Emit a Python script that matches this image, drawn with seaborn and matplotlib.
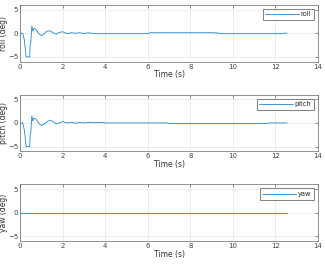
import numpy as np
import pandas as pd
import matplotlib
matplotlib.use("Agg")
import matplotlib.pyplot as plt
import seaborn as sns

# attitude response (deg vs s)
t_roll = [0, 0.12, 0.2, 0.28, 0.3, 0.45, 0.47, 0.5, 0.55, 0.6, 0.65, 0.72, 0.8, 0.9, 1.0, 1.1,
          1.25, 1.4, 1.55, 1.7, 1.85, 2.0, 2.2, 2.4, 2.6, 2.8, 3.0, 3.2, 3.5, 4.0, 5.0, 6.0,
          6.1, 7.0, 8.0, 9.0, 9.3, 9.4, 10.5, 11.5, 12.3, 12.55]
roll = [0, 0, -1.5, -5, -5, -5, -2.5, -2, 1.5, 0.4, 1.0, 0.9, 0.4, -0.2, -0.5, -0.2,
        0.4, 0.5, 0.1, -0.2, 0.2, 0.3, -0.1, 0.1, 0.0, 0.1, -0.05, 0.1, -0.1, -0.1, -0.1, -0.1,
        0.1, 0.1, 0.1, 0.1, 0.05, -0.1, -0.1, -0.1, -0.1, 0.05]

t_pitch = [0, 0.12, 0.2, 0.28, 0.3, 0.45, 0.47, 0.5, 0.55, 0.6, 0.65, 0.72, 0.8, 0.9, 1.0, 1.1,
           1.25, 1.4, 1.55, 1.7, 1.85, 2.0, 2.2, 2.4, 2.6, 2.8, 3.0, 3.2, 3.5, 3.9, 4.0, 6.9,
           7.0, 9.0, 11.6, 11.7, 12.55]
pitch = [0, 0, -1.5, -5, -5, -5, -2.5, -2, 1.5, 0.4, 1.0, 0.9, 0.5, -0.2, -0.5, -0.3,
         0.2, 0.6, 0.3, -0.2, 0.0, 0.3, 0.0, 0.1, -0.05, 0.1, 0.0, 0.1, 0.05, 0.1, 0.0, 0.0,
         -0.1, -0.1, -0.1, 0.0, 0.0]

t_yaw = [0, 12.55]
yaw = [0, 0]

panels = [("roll", t_roll, roll), ("pitch", t_pitch, pitch), ("yaw", t_yaw, yaw)]

sns.set_style("white")
plt.rcParams['font.family'] = ['DejaVu Sans']
plt.rcParams['font.size'] = 5

fig, axes = plt.subplots(3, 1, figsize=(3.25, 2.67), dpi=100)
fig.subplots_adjust(left=0.062, right=0.978, top=0.982, bottom=0.097, hspace=0.58)

for ax, (name, t, v) in zip(axes, panels):
    df = pd.DataFrame({"Time (s)": t, name: v})
    sns.lineplot(data=df, x="Time (s)", y=name, ax=ax, color="#1f86d0",
                 linewidth=0.6, label=name)
    ax.set_xlim(0, 14)
    ax.set_ylim(-6, 6)
    ax.set_xticks(range(0, 15, 2))
    ax.set_yticks([-5, 0, 5])
    ax.set_xlabel("Time (s)", fontsize=5.5, labelpad=0.5, color="#333333")
    ax.set_ylabel(name + " (deg)", fontsize=5.5, labelpad=0.0, color="#333333")
    ax.grid(True, color="#e6e6e6", linewidth=0.5)
    ax.tick_params(axis="both", direction="in", length=2, width=0.4, pad=1.5,
                   labelsize=5, colors="#444444", top=True, right=True)
    for s in ax.spines.values():
        s.set_linewidth(0.5)
        s.set_color("#666666")
    leg = ax.legend(loc="upper right", fontsize=4.8, frameon=True, fancybox=False,
                    handlelength=5, borderpad=0.4, handletextpad=0.3,
                    borderaxespad=0.6)
    leg.get_frame().set_edgecolor("#222222")
    leg.get_frame().set_linewidth(0.5)

fig.savefig("out.png", dpi=100)
